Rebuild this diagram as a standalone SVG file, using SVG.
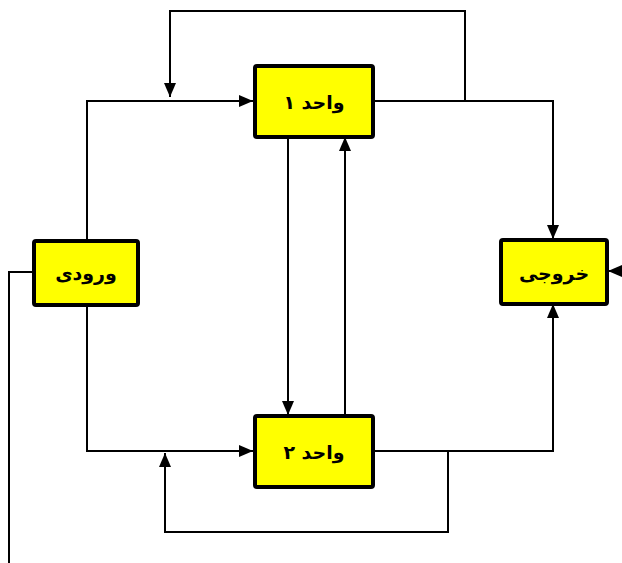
<svg xmlns="http://www.w3.org/2000/svg" width="622" height="563" viewBox="0 0 622 563">
  <style>
    .box { fill: #ffff00; stroke: #000; stroke-width: 4; }
    .lbl { font-family: "DejaVu Sans", "Liberation Sans", sans-serif; font-weight: bold; font-size: 19px; text-anchor: middle; dominant-baseline: central; fill: #000; }
    .wire { fill: none; stroke: #000; stroke-width: 2; }
  </style>
  <defs>
    <marker id="arrow" viewBox="0 0 14 12" refX="14" refY="6" markerWidth="14" markerHeight="12" markerUnits="userSpaceOnUse" orient="auto">
      <path d="M0,0 L14,6 L0,12 Z" fill="#000"/>
    </marker>
  </defs>
  <rect width="622" height="563" fill="#fff"/>

  <g id="connectors">
    <!-- feedback loop above unit 1 -->
    <polyline class="wire" points="465,101 465,11 170,11 170,97" marker-end="url(#arrow)"/>
    <!-- input to unit 1 -->
    <polyline class="wire" points="87,240 87,101 253,101" marker-end="url(#arrow)"/>
    <!-- unit 1 to output -->
    <polyline class="wire" points="373,101 553,101 553,239" marker-end="url(#arrow)"/>
    <!-- unit 1 down to unit 2 -->
    <line class="wire" x1="288" y1="137" x2="288" y2="415" marker-end="url(#arrow)"/>
    <!-- unit 2 up to unit 1 -->
    <line class="wire" x1="345" y1="415" x2="345" y2="137" marker-end="url(#arrow)"/>
    <!-- input to unit 2 -->
    <polyline class="wire" points="87,305 87,451 253,451" marker-end="url(#arrow)"/>
    <!-- unit 2 to output -->
    <polyline class="wire" points="373,451 553,451 553,304" marker-end="url(#arrow)"/>
    <!-- feedback loop below unit 2 -->
    <polyline class="wire" points="448,451 448,532 165,532 165,453" marker-end="url(#arrow)"/>
    <!-- external input on the right of output -->
    <line class="wire" x1="622" y1="271" x2="608" y2="271" marker-end="url(#arrow)"/>
    <!-- line leaving the input block -->
    <polyline class="wire" points="33,272 9,272 9,563"/>
  </g>

  <g id="input">
    <rect class="box" x="34" y="241" width="104" height="64" rx="2"/>
    <text class="lbl" x="86" y="273">ورودی</text>
  </g>
  <g id="unit1">
    <rect class="box" x="255" y="66" width="118" height="71" rx="2"/>
    <text class="lbl" x="314" y="102">واحد ۱</text>
  </g>
  <g id="unit2">
    <rect class="box" x="255" y="416" width="118" height="71" rx="2"/>
    <text class="lbl" x="314" y="452">واحد ۲</text>
  </g>
  <g id="output">
    <rect class="box" x="501" y="240" width="106" height="64" rx="2"/>
    <text class="lbl" x="554" y="272.5">خروجی</text>
  </g>
</svg>
